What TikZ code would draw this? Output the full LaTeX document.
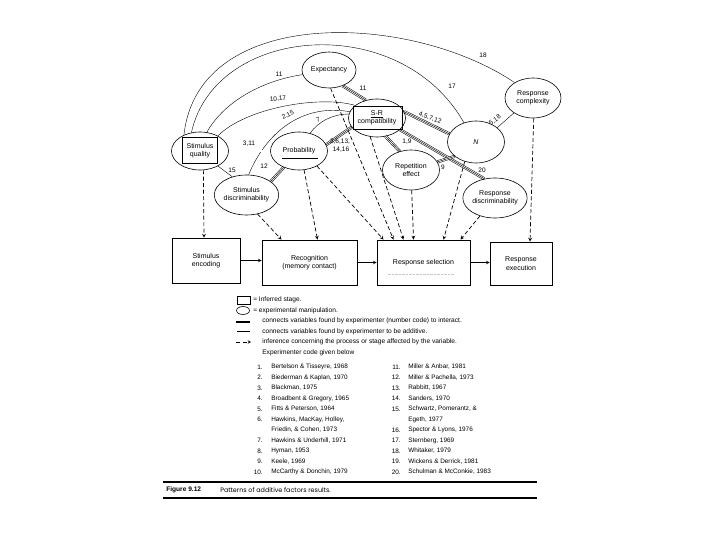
\documentclass[tikz,border=0pt]{standalone}
\usepackage{fontspec}
\setmainfont{Liberation Sans}
\newfontfamily\capfont{Poppins}
\usetikzlibrary{shapes.geometric,backgrounds}
\begin{document}
\begin{tikzpicture}[x=1pt,y=-1pt,>=stealth,line width=.6pt,
		manip/.style={ellipse,draw,minimum width=57pt,minimum height=38pt,inner sep=0pt,align=center,font=\fontsize{7}{8}\selectfont},
		stage/.style={draw,line width=.8pt,minimum height=45pt,inner sep=1pt,align=center,font=\fontsize{7}{8.5}\selectfont},
		lbl/.style={inner sep=0pt,font=\fontsize{6.5}{7}\selectfont},
		txt/.style={anchor=west,inner sep=0pt,font=\fontsize{6.6}{7}\selectfont},
		triple/.style={line width=.45pt,preaction={draw,line width=3pt},preaction={draw,white,line width=2pt}},
		twin/.style={double,double distance=1.4pt,line width=.5pt},
		infer/.style={->,line width=.7pt,dash pattern=on 4pt off 2.5pt}]
	\useasboundingbox (0,0) rectangle (720,540);
	% manipulations
	\node[manip,minimum width=54pt,minimum height=36pt] (exp) at (329,70) {Expectancy};
	\node[manip,minimum width=56pt,minimum height=40pt] (rc) at (533,98) {Response\\complexity};
	\node[manip] (sq) at (200,151) {Stimulus\\quality};
	\node[manip] (prob) at (299,151) {Probability};
	\node[manip,minimum height=40pt] (sd) at (246.5,195) {Stimulus\\discriminability};
	\node[manip] (src) at (377,118) {\underline{S-R}\\compatibility};
	\node[manip,minimum height=42pt] (N) at (476,142) {\itshape N};
	\node[manip,minimum height=40pt] (rep) at (411,170) {Repetition\\effect};
	\node[manip,minimum width=55pt,minimum height=40pt] (rd) at (495,198) {Response\\discriminability};
	\draw[line width=.5pt] (sq.center) +(-18,-14) rectangle +(17,12);
	\draw[line width=.5pt] (src.center) +(-24,-12) rectangle +(25,11);
	\draw[line width=.5pt] (prob.center) +(-17,7) -- +(19,7);
	% stages
	\node[stage,minimum width=68pt] (enc) at (206,260.5) {Stimulus\\encoding};
	\node[stage,minimum width=95pt] (recog) at (309.5,262.5) {Recognition\\(memory contact)};
	\node[stage,minimum width=93pt] (sel) at (423.5,262.5) {Response selection};
	\node[stage,minimum width=62pt,minimum height=43pt] (exec) at (521,263.5) {Response\\execution};
	\draw[gray!45,densely dotted,line width=.4pt] (sel.center) +(-36,12) -- +(30,12);
	\draw[->] (enc.east) -- (enc.east -| recog.west);
	\draw[->] (recog) -- (sel);
	\draw[->] (sel) -- (exec.west |- sel.east);
	\begin{scope}[on background layer]
		\draw (sq.135) .. controls (198,5) and (410,12) .. (rc.140);
		\draw (sq.115) .. controls (215,25) and (400,10) .. (N.122);
		\draw (sq.70) .. controls (225,100) and (265,80) .. (exp.190);
		\draw (sq.40) .. controls (245,108) and (320,95) .. (src.150);
		\draw (sd.84) .. controls (265,135) and (300,103) .. (src.167);
		\draw (prob.58) .. controls (318,122) and (332,114) .. (src.172);
		\draw (sq.320) -- (sd.128);
		\draw (N.34) -- (rc.218);
		\draw[twin] (sq.east) -- (prob.west);
		\draw[triple] (sd.29) -- (prob.227);
		\draw[triple] (prob.13) -- (src.200);
		\draw[triple] (exp.311) -- (src.122);
		\draw[triple] (src.13) -- (N.163);
		\draw[triple] (src.295) -- (rep.121);
		\draw[triple] (src.333) -- (rd.119);
		\draw[triple] (rep.17) -- (N.214);
		% inferences
		\draw[infer] (sq.280) -- ([xshift=-2pt]enc.north);
		\draw[infer] (sd.300) -- ([xshift=-28pt]recog.north);
		\draw[infer] (prob.285) -- ([xshift=8pt]recog.north);
		\draw[infer] (prob.320) -- ([xshift=-40pt]sel.north);
		\draw[infer] (exp.275) -- ([xshift=-30pt]sel.north);
		\draw[infer] (src.250) -- ([xshift=-20pt]sel.north);
		\draw[infer] (rep.272) -- ([xshift=-10pt]sel.north);
		\draw[infer] (N.240) -- ([xshift=20pt]sel.north);
		\draw[infer] (rd.230) -- ([xshift=37pt]sel.north);
		\draw[infer] (rc.272) -- ([xshift=9pt]exec.north);
	\end{scope}
	% experimenter codes
	\node[lbl] (c18) at (483,55) {18};
	\node[lbl] (c17) at (452,86) {17};
	\node[lbl] (c11a) at (279,74) {11};
	\node[lbl,rotate=6] (c1017) at (278,99) {10,17};
	\node[lbl,rotate=25] (c215) at (288,115) {2,15};
	\node[lbl,rotate=20] (c7) at (318,120) {7};
	\node[lbl] (c311) at (249,144) {3,11};
	\node[lbl] (c15) at (232,170) {15};
	\node[lbl] (c12) at (264,166) {12};
	\node[lbl] (c3613) at (340,142) {3,6,13,};
	\node[lbl] (c1416) at (341,150) {14,16};
	\node[lbl] (c11b) at (363,88) {11};
	\node[lbl,rotate=-20] (c4512) at (430,118) {4,5,7,12};
	\node[lbl] (c19) at (407,142) {1,9};
	\node[lbl] (c20) at (482,170) {20};
	\node[lbl] (c9) at (443,167) {9};
	\node[lbl,rotate=35] (c518) at (495,120) {5,18};
	% key
	\node[draw,minimum width=13pt,minimum height=8pt,inner sep=0pt] (keybox) at (243.5,300) {};
	\node[ellipse,draw,minimum width=13pt,minimum height=8pt,inner sep=0pt] (keyell) at (243,310.5) {};
	\coordinate (ka) at (236,321); \coordinate (kb) at (250,321);
	\coordinate (kc) at (237,331.5); \coordinate (kd) at (250,331.5);
	\coordinate (ke) at (236,342); \coordinate (kf) at (251,342);
	\draw[triple] (ka) -- (kb);
	\draw[line width=.4pt] (kc) -- (kd);
	\draw[infer,line width=.5pt] (ke) -- (kf);
	\node[txt] (k1) at (253,300) {= Inferred stage.};
	\node[txt] (k2) at (253,310.5) {= experimental manipulation.};
	\node[txt] (k3) at (262,321) {connects variables found by experimenter (number code) to interact.};
	\node[txt] (k4) at (262,331.5) {connects variables found by experimenter to be additive.};
	\node[txt] (k5) at (262,342) {inference concerning the process or stage affected by the variable.};
	\node[txt] (k6) at (262,352.5) {Experimenter code given below};
	% references
	\foreach \i/\n/\r in {0/1./{Bertelson \& Tisseyre, 1968},1/2./{Biederman \& Kaplan, 1970},2/3./{Blackman, 1975},
		3/4./{Broadbent \& Gregory, 1965},4/5./{Fitts \& Peterson, 1964},5/6./{Hawkins, MacKay, Holley,},
		6//{Friedin, \& Cohen, 1973},7/7./{Hawkins \& Underhill, 1971},8/8./{Hyman, 1953},9/9./{Keele, 1969},
		10/10./{McCarthy \& Donchin, 1979}}
		{\node[lbl,anchor=east,font=\fontsize{6.4}{7}\selectfont] (ln\i) at (263,{367+10.5*\i}) {\n};
		\node[txt,font=\fontsize{6.4}{7}\selectfont] (lr\i) at (271,{367+10.5*\i}) {\r};}
	\foreach \i/\n/\r in {0/11./{Miller \& Anbar, 1981},1/12./{Miller \& Pachella, 1973},2/13./{Rabbitt, 1967},
		3/14./{Sanders, 1970},4/15./{Schwartz, Pomerantz, \&},5//{Egeth, 1977},6/16./{Spector \& Lyons, 1976},
		7/17./{Sternberg, 1969},8/18./{Whitaker, 1979},9/19./{Wickens \& Derrick, 1981},10/20./{Schulman \& McConkie, 1983}}
		{\node[lbl,anchor=east,font=\fontsize{6.4}{7}\selectfont] (rn\i) at (401,{367+10.5*\i}) {\n};
		\node[txt,font=\fontsize{6.4}{7}\selectfont] (rr\i) at (408,{367+10.5*\i}) {\r};}
	% caption
	\coordinate (ra) at (163,482); \coordinate (rb) at (537,482);
	\coordinate (rc1) at (163,498); \coordinate (rd1) at (537,498);
	\draw[line width=1.6pt] (ra) -- (rb);
	\draw[line width=1.6pt] (rc1) -- (rd1);
	\node[txt,font=\bfseries\fontsize{6.6}{7}\selectfont] (fig) at (166,490) {Figure 9.12};
	\node[txt,font=\capfont\fontsize{6.4}{7}\selectfont] (cap) at (220,490) {Patterns of additive factors results.};
\end{tikzpicture}
\end{document}
